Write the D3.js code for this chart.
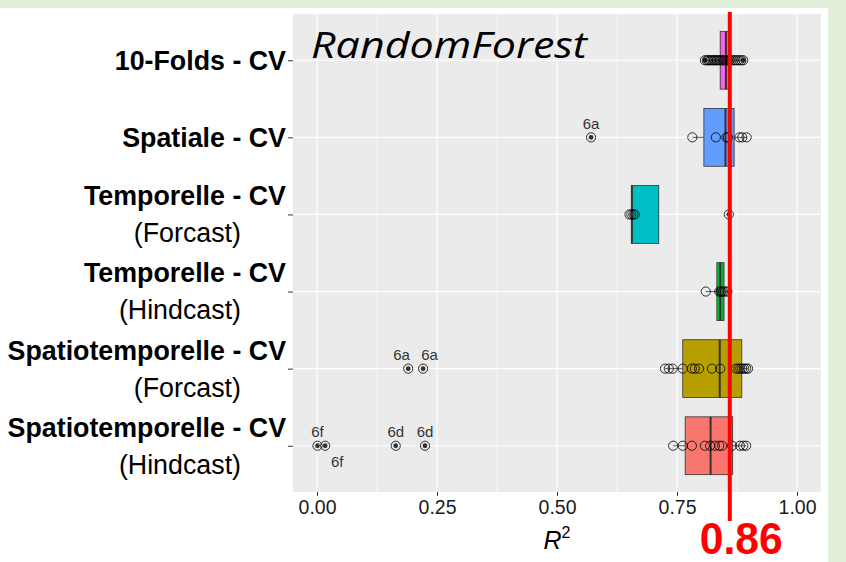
<!DOCTYPE html>
<html><head><meta charset="utf-8">
<script src="https://cdn.jsdelivr.net/npm/d3@7"></script>
<style>body{margin:0;background:#fff}svg{display:block}</style>
</head><body>
<svg id="c" width="846" height="562"></svg>
<script>
// ---------- data ----------
const catMain = ["10-Folds - CV","Spatiale - CV","Temporelle - CV","Temporelle - CV","Spatiotemporelle - CV","Spatiotemporelle - CV"];
const catSub  = ["","","(Forcast)","(Hindcast)","(Forcast)","(Hindcast)"];
const catColors = ["#F564E3","#619CFF","#00BFC4","#00BA38","#B79F00","#F8766D"];
const q1  = [0.840,0.806,0.655,0.833,0.762,0.767];
const med = [0.852,0.851,0.656,0.840,0.839,0.820];
const q3  = [0.858,0.869,0.712,0.848,0.885,0.866];
const whLo = [0.812,0.782,0.651,0.810,0.725,0.742];
const whHi = [0.884,0.896,0.712,0.855,0.898,0.894];
const points = [
  [0.808,0.812,0.815,0.818,0.821,0.824,0.827,0.830,0.833,0.836,0.839,0.842,0.845,0.848,0.851,0.854,0.857,0.860,0.864,0.868,0.872,0.876,0.880,0.884,0.888],
  [0.571,0.782,0.831,0.853,0.856,0.880,0.886,0.895],
  [0.651,0.655,0.659,0.662,0.858],
  [0.810,0.838,0.841,0.843,0.846,0.850,0.855],
  [0.190,0.221,0.725,0.733,0.741,0.762,0.781,0.787,0.796,0.823,0.840,0.873,0.878,0.882,0.886,0.890,0.894,0.898],
  [0.001,0.017,0.164,0.225,0.742,0.762,0.781,0.808,0.819,0.829,0.838,0.844,0.865,0.881,0.888,0.894]
];
const outlierLabels = [
  {cat:1, value:0.571, label:"6a"},
  {cat:4, value:0.190, label:"6a"},
  {cat:4, value:0.221, label:"6a"},
  {cat:5, value:0.001, label:"6f"},
  {cat:5, value:0.017, label:"6f"},
  {cat:5, value:0.164, label:"6d"},
  {cat:5, value:0.225, label:"6d"}
];
const xTicks = [0,0.25,0.5,0.75,1];
const xMinor = [0.125,0.375,0.625,0.875];
const refValue = 0.86;
const titleText = "RandomForest";

// ---------- layout ----------
const svg = d3.select("#c");
const P = {l:293, r:821, t:14, b:492};
const green = "#E2EFDA";
svg.append("rect").attr("x",0).attr("y",0).attr("width",846).attr("height",562).attr("fill",green);
svg.append("rect").attr("x",0).attr("y",8).attr("width",828).attr("height",562).attr("fill","#fff");

const x = d3.scaleLinear().domain([-0.05,1.05]).range([P.l,P.r]);
const idx = d3.range(catMain.length);
const y = d3.scalePoint().domain(idx).range([P.t,P.b]).padding(0.6);
const half = y.step()*0.375;

svg.append("rect").attr("x",P.l).attr("y",P.t).attr("width",P.r-P.l).attr("height",P.b-P.t).attr("fill","#EBEBEB");
const g = svg.append("g");
g.selectAll(".minor").data(xMinor).join("line")
  .attr("x1",d=>x(d)).attr("x2",d=>x(d)).attr("y1",P.t).attr("y2",P.b)
  .attr("stroke","#fff").attr("stroke-width",0.6);
g.selectAll(".major").data(xTicks).join("line")
  .attr("x1",d=>x(d)).attr("x2",d=>x(d)).attr("y1",P.t).attr("y2",P.b)
  .attr("stroke","#fff").attr("stroke-width",1.2);
g.selectAll(".hmajor").data(idx).join("line")
  .attr("x1",P.l).attr("x2",P.r).attr("y1",d=>y(d)).attr("y2",d=>y(d))
  .attr("stroke","#fff").attr("stroke-width",1.2);

// axes
const xAxis = d3.axisBottom(x).tickValues(xTicks).tickFormat(d3.format(".2f")).tickSize(4).tickPadding(4);
const xa = svg.append("g").attr("transform",`translate(0,${P.b})`).call(xAxis);
xa.select(".domain").remove();
xa.selectAll("line").attr("stroke","#333");
xa.selectAll("text").attr("font-family","Liberation Sans, Arial, sans-serif").attr("font-size",19.5).attr("fill","#1a1a1a");

const yAxis = d3.axisLeft(y).tickFormat("").tickSize(5);
const ya = svg.append("g").attr("transform",`translate(${P.l},0)`).call(yAxis);
ya.select(".domain").remove();
ya.selectAll("line").attr("stroke","#333");

const lab = svg.append("g").attr("font-family","Liberation Sans, Arial, sans-serif").attr("font-size",26.8).attr("fill","#000");
idx.forEach(i=>{
  const two = catSub[i] !== "";
  lab.append("text").attr("x",286).attr("y",y(i)+(two?-18.5:0)).attr("dy","0.35em")
    .attr("text-anchor","end").attr("font-weight","bold").text(catMain[i]);
  if(two) lab.append("text").attr("x",241).attr("y",y(i)+18.5).attr("dy","0.35em")
    .attr("text-anchor","end").text(catSub[i]);
});

// boxes
const bx = svg.append("g");
idx.forEach(i=>{
  const cy = y(i);
  bx.append("line").attr("x1",x(whLo[i])).attr("x2",x(q1[i])).attr("y1",cy).attr("y2",cy).attr("stroke","#333").attr("stroke-width",0.8);
  bx.append("line").attr("x1",x(q3[i])).attr("x2",x(whHi[i])).attr("y1",cy).attr("y2",cy).attr("stroke","#333").attr("stroke-width",0.8);
  bx.append("rect").attr("x",x(q1[i])).attr("y",cy-half).attr("width",x(q3[i])-x(q1[i])).attr("height",2*half)
    .attr("fill",catColors[i]).attr("stroke","#333").attr("stroke-width",0.8);
  bx.append("line").attr("x1",x(med[i])).attr("x2",x(med[i])).attr("y1",cy-half).attr("y2",cy+half).attr("stroke","#333").attr("stroke-width",2);
  bx.selectAll(null).data(points[i].filter(v=>v<whLo[i]-1e-9||v>whHi[i]+1e-9)).join("circle")
    .attr("cx",d=>x(d)).attr("cy",cy).attr("r",2.4).attr("fill","#333");
});
// points (open circles)
const pt = svg.append("g");
idx.forEach(i=>{
  pt.selectAll(null).data(points[i]).join("circle")
    .attr("cx",d=>x(d)).attr("cy",y(i)).attr("r",4.6)
    .attr("fill","none").attr("stroke","#000").attr("stroke-width",0.8);
});
// outlier labels with a simple repel
const placed = outlierLabels.map(o=>({...o, lx:x(o.value), ly:y(o.cat)-14}));
placed.forEach((o,k)=>{
  const prev = placed.slice(0,k).find(p=>p.cat===o.cat && Math.abs(p.lx-x(o.value))<12);
  if(prev){ o.lx = x(o.value)+12; o.ly = y(o.cat)+16; }
});
// push apart labels on the same side that are too close
for(let it=0; it<20; it++){
  placed.forEach(a=>placed.forEach(b=>{
    if(a!==b && a.cat===b.cat && a.ly===b.ly && a.lx<b.lx && b.lx-a.lx<28){
      const d=(28-(b.lx-a.lx))/2; a.lx-=d; b.lx+=d;
    }
  }));
}
const ol = svg.append("g").attr("font-family","Liberation Sans, Arial, sans-serif").attr("font-size",15).attr("fill","#333").attr("text-anchor","middle");
ol.selectAll("text").data(placed).join("text")
  .attr("x",d=>d.lx).attr("y",d=>d.ly).attr("dy","0.35em").text(d=>d.label);

// axis title
const at = svg.append("text").attr("x",(P.l+P.r)/2).attr("y",549).attr("text-anchor","middle")
  .attr("font-family","Liberation Sans, Arial, sans-serif").attr("font-size",25).attr("fill","#000");
at.append("tspan").attr("font-style","italic").text("R");
at.append("tspan").attr("font-size",16).attr("dy",-11).text("2");

// title
svg.append("text").attr("x",311).attr("y",58).attr("font-family","Open Sans, sans-serif").attr("font-style","italic")
  .attr("font-size",36).attr("fill","#000").attr("textLength",276).attr("lengthAdjust","spacingAndGlyphs").text(titleText);

// reference line
svg.append("line").attr("x1",x(refValue)).attr("x2",x(refValue)).attr("y1",12).attr("y2",521)
  .attr("stroke","#FF0000").attr("stroke-width",4);
svg.append("text").attr("x",x(refValue)-30).attr("y",554).attr("font-family","Liberation Sans, Arial, sans-serif")
  .attr("font-weight","bold").attr("font-size",44).attr("fill","#FF0000")
  .attr("textLength",83).attr("lengthAdjust","spacingAndGlyphs").text(d3.format(".2f")(refValue));
</script>
</body></html>
